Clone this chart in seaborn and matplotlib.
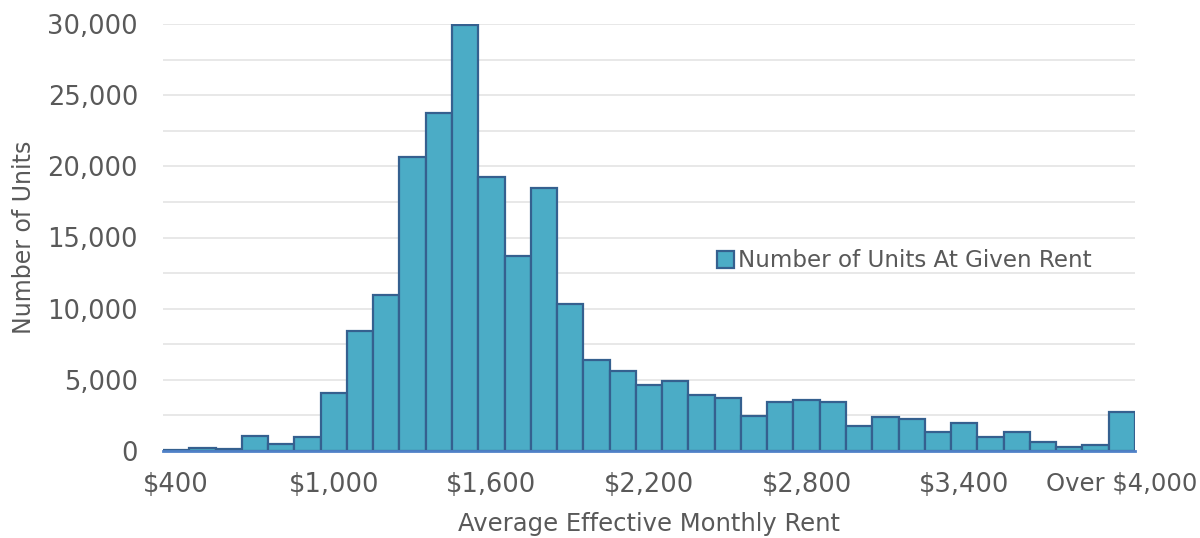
import matplotlib
matplotlib.use("Agg")
import matplotlib.pyplot as plt
from matplotlib.ticker import MultipleLocator, FuncFormatter
import seaborn as sns
import pandas as pd

rent_bins = ["$400", "$500", "$600", "$700", "$800", "$900", "$1,000", "$1,100",
             "$1,200", "$1,300", "$1,400", "$1,500", "$1,600", "$1,700", "$1,800",
             "$1,900", "$2,000", "$2,100", "$2,200", "$2,300", "$2,400", "$2,500",
             "$2,600", "$2,700", "$2,800", "$2,900", "$3,000", "$3,100", "$3,200",
             "$3,300", "$3,400", "$3,500", "$3,600", "$3,700", "$3,800", "$3,900",
             "Over $4,000"]
units = [100, 200, 150, 1050, 480, 980, 4080, 8450, 10980, 20650, 23780, 29900,
         19230, 13720, 18500, 10330, 6400, 5650, 4640, 4920, 3920, 3690, 2490,
         3430, 3550, 3430, 1760, 2400, 2240, 1370, 2000, 990, 1300, 640, 290,
         400, 2740]
tick_labels = ["$400", "$1,000", "$1,600", "$2,200", "$2,800", "$3,400", "Over $4,000"]
series_name = "Number of Units At Given Rent"

df = pd.DataFrame({"rent": rent_bins, "units": units, "series": series_name})

sns.set_style("white")
plt.rcParams["font.family"] = ["DejaVu Sans"]
text_color = "#595959"

fig = plt.figure(figsize=(12, 5.38), dpi=100)
ax = fig.add_axes([163 / 1200, 1 - 451 / 538, (1135 - 163) / 1200, (451 - 24) / 538])

sns.barplot(data=df, x="rent", y="units", hue="series", palette=["#4BACC6"],
            width=1.0, edgecolor="#35608F", linewidth=1.6, saturation=1,
            ax=ax, zorder=3)

ax.set_xlim(-0.5, len(rent_bins) - 0.5)
ax.set_ylim(0, 30000)

# y axis
ax.yaxis.set_major_locator(MultipleLocator(5000))
ax.yaxis.set_minor_locator(MultipleLocator(2500))
ax.yaxis.set_major_formatter(FuncFormatter(lambda v, p: f"{int(v):,}"))
ax.grid(axis="y", which="both", color="#E2E2E2", linewidth=1.1, zorder=0)
ax.tick_params(axis="y", which="both", length=0, pad=18, labelsize=18.5, labelcolor=text_color)

# x axis
pos = [rent_bins.index(t) for t in tick_labels]
ax.set_xticks(pos)
ax.set_xticklabels(tick_labels)
ax.set_xticks([i - 0.5 for i in range(len(rent_bins) + 1)], minor=True)
ax.tick_params(axis="x", which="major", length=0, pad=15, labelsize=18.5, labelcolor=text_color)
ax.tick_params(axis="x", which="minor", length=8, width=1.3, color="#4F81C7", direction="out")
ax.get_xticklabels()[-1].set_fontsize(17.5)

for s in ["top", "right", "left"]:
    ax.spines[s].set_visible(False)
ax.spines["bottom"].set_color("#4F81C7")
ax.spines["bottom"].set_linewidth(2)
ax.spines["bottom"].set_zorder(4)

ax.set_xlabel("Average Effective Monthly Rent", fontsize=17.5, color=text_color, labelpad=10)
ax.set_ylabel("Number of Units", fontsize=17, color=text_color, labelpad=8)

leg = ax.legend(loc="center left", bbox_to_anchor=(0.56, 0.445), frameon=False,
                fontsize=16.6, handlelength=0.75, handleheight=0.75, handletextpad=0.2,
                borderaxespad=0)
for t in leg.get_texts():
    t.set_color(text_color)

fig.savefig("out.png", dpi=100)
